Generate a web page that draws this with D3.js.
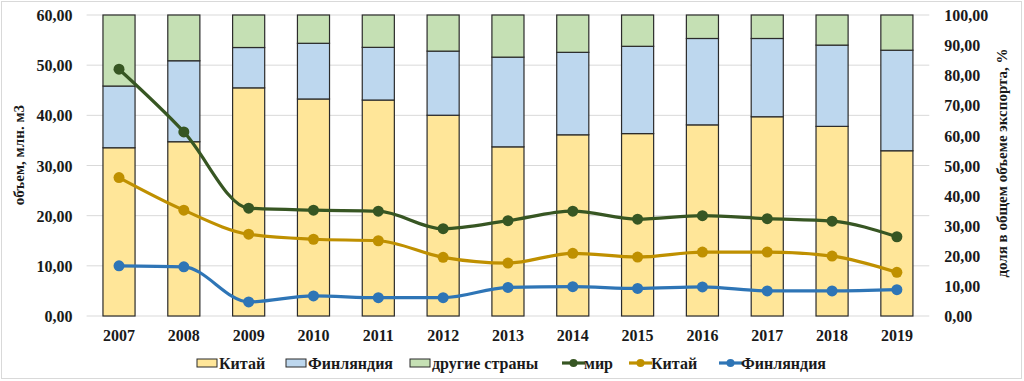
<!DOCTYPE html>
<html><head><meta charset="utf-8">
<script src="https://cdn.jsdelivr.net/npm/d3@7"></script>
<style>body{margin:0;background:#fff}svg{display:block}text{font-family:"Liberation Serif","Times New Roman",serif;font-weight:bold;fill:#1a1a1a}</style>
</head><body><svg id="c" width="1024" height="381"></svg>
<script>
const years = ["2007","2008","2009","2010","2011","2012","2013","2014","2015","2016","2017","2018","2019"];
// bar shares, % of total export (right axis)
const shareChina   = [55.9,57.9,75.8,72.1,71.75,66.7,56.2,60.2,60.6,63.5,66.2,63.0,54.9];
const shareFinland = [20.5,26.9,13.4,18.5,17.5,21.3,29.8,27.4,29.0,28.7,26.0,27.0,33.4];
const shareOther   = [23.6,15.2,10.8,9.4,10.75,12.0,14.0,12.4,10.4,7.8,7.8,10.0,11.7];
// export volumes, mln m3 (left axis)
const volWorld   = [49.2,36.7,21.5,21.1,20.9,17.4,19.0,20.9,19.3,20.0,19.4,18.9,15.8];
const volChina   = [27.6,21.1,16.3,15.3,15.0,11.7,10.55,12.5,11.75,12.75,12.75,11.95,8.7];
const volFinland = [10.0,9.8,2.8,4.0,3.65,3.65,5.7,5.85,5.5,5.8,5.0,5.0,5.25];
const leftTicks  = [0,10,20,30,40,50,60];
const rightTicks = [0,10,20,30,40,50,60,70,80,90,100];
const barSeries  = ["Китай","Финляндия","другие страны"];
const lineSeries = ["мир","Китай","Финляндия"];
const leftTitle = "объем, млн. м3";
const rightTitle = "доля в общем объеме экспорта, %";

const barColors  = ["#FFE699","#BDD7EE","#C5E0B4"];
const lineColors = ["#375623","#BF9000","#2E75B6"];

const svg = d3.select("#c");
const fmt = v => d3.format(".2f")(v).replace(".", ",");
const L = 86.6, R = 929.3, T = 15, B = 316;

svg.append("rect").attr("x",1.5).attr("y",1.5).attr("width",1020).attr("height",377)
  .attr("fill","#fff").attr("stroke","#d9d9d9");

const x = d3.scaleBand().domain(years).range([L,R]).paddingInner(0.505).paddingOuter(0.2525);
const yL = d3.scaleLinear().domain([0,60]).range([B,T]);
const yR = d3.scaleLinear().domain([0,100]).range([B,T]);

// gridlines
svg.append("g").selectAll("line").data(leftTicks).join("line")
  .attr("x1",L).attr("x2",R).attr("y1",d=>yL(d)).attr("y2",d=>yL(d))
  .attr("stroke","#d9d9d9").attr("stroke-width",1);

function styleAxis(g, dy){
  g.attr("font-family",null).attr("font-size",null);
  g.select(".domain").remove();
  g.selectAll("text").style("font-size","16px").style("font-family","'Liberation Serif', serif")
    .style("font-weight","bold").attr("fill","#1a1a1a").attr("dy",dy);
}
// left axis
const gl = svg.append("g").attr("transform",`translate(${L-14},0)`)
  .call(d3.axisLeft(yL).tickValues(leftTicks).tickFormat(fmt).tickSize(0).tickPadding(0));
styleAxis(gl,"0.35em");

// right axis
const gr = svg.append("g").attr("transform",`translate(${R+15},0)`)
  .call(d3.axisRight(yR).tickValues(rightTicks).tickFormat(fmt).tickSize(0).tickPadding(0));
styleAxis(gr,"0.35em");

// x axis
const gx = svg.append("g").attr("transform",`translate(0,${B+13})`)
  .call(d3.axisBottom(x).tickSize(0).tickPadding(0));
styleAxis(gx,"0.75em");

// titles
svg.append("text").attr("transform","translate(24,155) rotate(-90)").attr("text-anchor","middle")
  .style("font-size","15px").text(leftTitle);
svg.append("text").attr("transform","translate(1007,163) rotate(-90)").attr("text-anchor","middle")
  .style("font-size","15px").text(rightTitle);

// stacked bars
const rows = years.map((y,i)=>({year:y, s0:shareChina[i], s1:shareFinland[i], s2:shareOther[i]}));
const stack = d3.stack().keys(["s0","s1","s2"])(rows);
svg.append("g").selectAll("g").data(stack).join("g").attr("fill",(d,i)=>barColors[i])
  .selectAll("rect").data(d=>d).join("rect")
  .attr("x",d=>x(d.data.year)).attr("width",x.bandwidth())
  .attr("y",d=>yR(d[1])).attr("height",d=>yR(d[0])-yR(d[1]))
  .attr("stroke","#2b2b2b").attr("stroke-width",1.2);

// lines
const lineData = [volWorld, volChina, volFinland];
const line = d3.line().x((d,i)=>x(years[i])+x.bandwidth()/2).y(d=>yL(d)).curve(d3.curveMonotoneX);
lineData.forEach((arr,k)=>{
  const g = svg.append("g");
  g.append("path").attr("d",line(arr)).attr("fill","none").attr("stroke",lineColors[k]).attr("stroke-width",3.2);
  g.selectAll("circle").data(arr).join("circle")
    .attr("cx",(d,i)=>x(years[i])+x.bandwidth()/2).attr("cy",d=>yL(d)).attr("r",5.5)
    .attr("fill",lineColors[k]);
});

// legend
const ly = 363;
const lg = svg.append("g");
const legItems = [
  {t:"bar", c:barColors[0], label:barSeries[0], x:197},
  {t:"bar", c:barColors[1], label:barSeries[1], x:286},
  {t:"bar", c:barColors[2], label:barSeries[2], x:410},
  {t:"line", c:lineColors[0], label:lineSeries[0], x:562},
  {t:"line", c:lineColors[1], label:lineSeries[1], x:629},
  {t:"line", c:lineColors[2], label:lineSeries[2], x:719}
];
legItems.forEach(it=>{
  if(it.t==="bar"){
    lg.append("rect").attr("x",it.x).attr("y",ly-4).attr("width",20).attr("height",8)
      .attr("fill",it.c).attr("stroke","#2b2b2b").attr("stroke-width",1);
  } else {
    lg.append("line").attr("x1",it.x).attr("x2",it.x+23).attr("y1",ly).attr("y2",ly)
      .attr("stroke",it.c).attr("stroke-width",3.2);
    lg.append("circle").attr("cx",it.x+11.5).attr("cy",ly).attr("r",4).attr("fill",it.c);
  }
  lg.append("text").attr("x",it.x+22).attr("y",ly).attr("dy","0.35em").style("font-size","16px").text(it.label);
});
</script></body></html>
